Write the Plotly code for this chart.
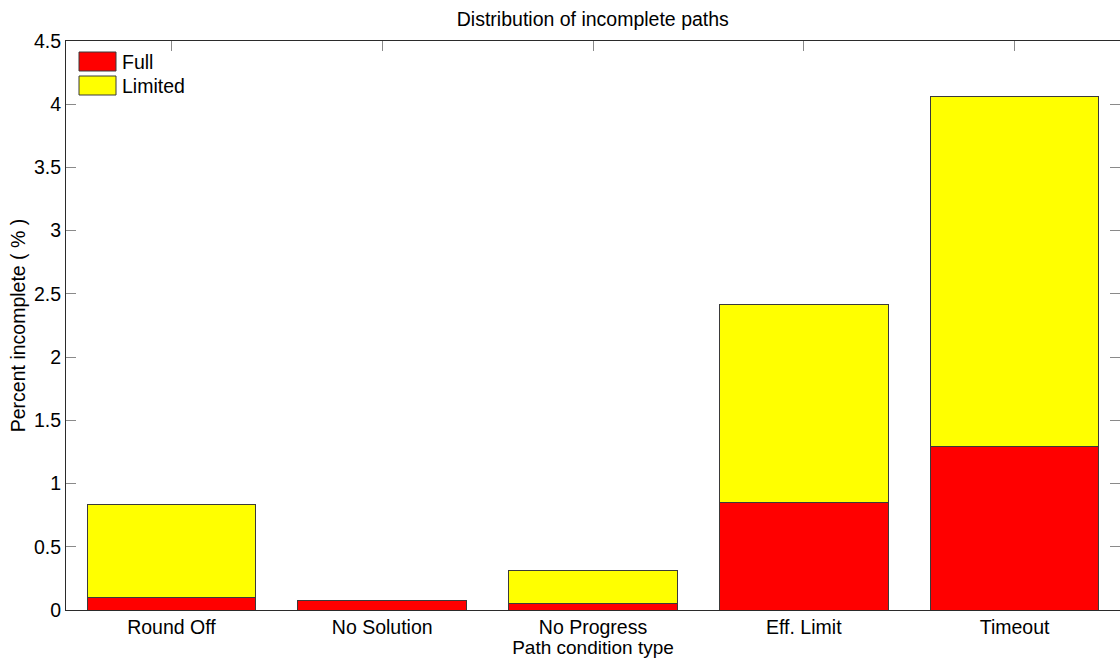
import plotly.graph_objects as go

# Incomplete-path percentages per path condition type
categories = ["Round Off", "No Solution", "No Progress", "Eff. Limit", "Timeout"]
full_pct = [0.100, 0.077, 0.053, 0.852, 1.292]
limited_pct = [0.736, 0.0, 0.258, 1.566, 2.773]
series_names = ["Full", "Limited"]
series_colors = ["#FF0000", "#FFFF00"]
y_ticks = [0, 0.5, 1, 1.5, 2, 2.5, 3, 3.5, 4, 4.5]
y_tick_text = ["0", "0.5", "1", "1.5", "2", "2.5", "3", "3.5", "4", "4.5"]

FONT = "Liberation Sans, Arial, Helvetica, sans-serif"
FS = 19.5
EDGE = "#3a3a3a"

fig = go.Figure()
for name, vals, col in zip(series_names, [full_pct, limited_pct], series_colors):
    fig.add_trace(go.Bar(
        x=categories, y=vals, name=name,
        marker=dict(color=col, line=dict(color=EDGE, width=1)),
        showlegend=False,
    ))

axis_common = dict(
    showline=True, linecolor="#2b2b2b", linewidth=1, mirror="ticks",
    ticks="inside", ticklen=10, tickcolor="#8a8a8a", tickwidth=1,
    showgrid=False, zeroline=False, layer="below traces",
    tickfont=dict(family=FONT, size=FS, color="#000"),
)

fig.update_layout(
    width=1120, height=658,
    margin=dict(l=66, r=0, t=41, b=48, autoexpand=False),
    paper_bgcolor="white", plot_bgcolor="white",
    barmode="stack", bargap=0.2,
    font=dict(family=FONT, size=FS, color="#000"),
    title=dict(text="Distribution of incomplete paths", x=0.5293, xanchor="center",
               y=1 - 19 / 658, yanchor="middle",
               font=dict(family=FONT, size=FS, color="#000")),
    xaxis=dict(axis_common, range=[-0.5, 4.5],
               title=dict(text="Path condition type", standoff=4,
                          font=dict(family=FONT, size=19))),
    yaxis=dict(axis_common, range=[0, 4.5], tickvals=y_ticks, ticktext=y_tick_text,
               title=dict(text="Percent incomplete ( % )", standoff=3,
                          font=dict(family=FONT, size=FS))),
)

# Legend drawn as swatches plus labels in the upper-left corner of the axes
sw_x0, sw_x1 = 79, 116
sw_rows = [(52, 71), (76, 95)]
W, H = 1120, 658
for (y0, y1), name, col in zip(sw_rows, series_names, series_colors):
    fig.add_shape(type="rect", xref="paper", yref="paper",
                  x0=(sw_x0 - 66) / (W - 66), x1=(sw_x1 - 66) / (W - 66),
                  y0=(610 - y1) / (610 - 41), y1=(610 - y0) / (610 - 41),
                  fillcolor=col, line=dict(color=EDGE, width=1))
    fig.add_annotation(xref="paper", yref="paper",
                       x=(120 - 66) / (W - 66), y=(610 - (y0 + y1) / 2) / (610 - 41),
                       text=name, showarrow=False, xanchor="left", yanchor="middle",
                       font=dict(family=FONT, size=FS, color="#000"))

fig.write_html("out.html")
